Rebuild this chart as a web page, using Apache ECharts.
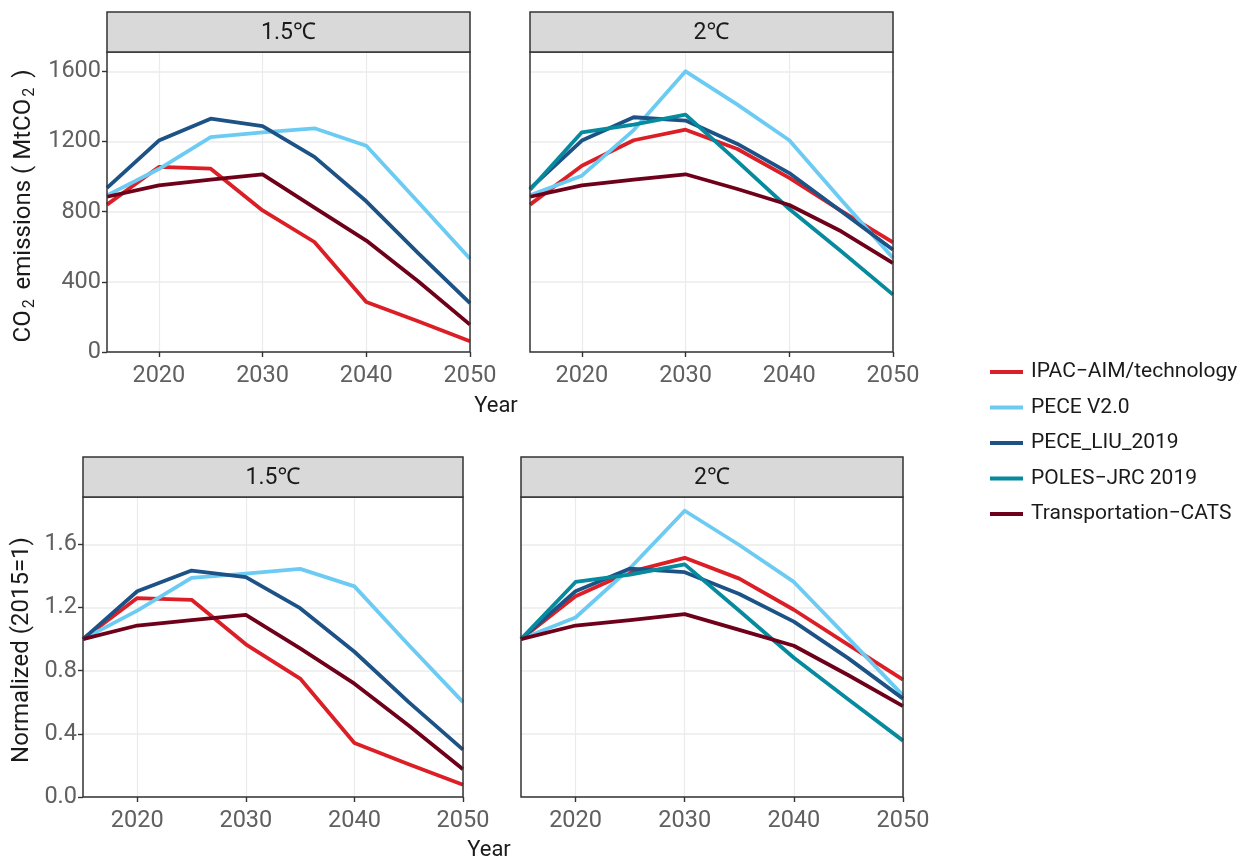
<!DOCTYPE html>
<html>
<head>
<meta charset="utf-8">
<script src="https://cdn.jsdelivr.net/npm/echarts@6/dist/echarts.min.js"></script>
<style>
html,body{margin:0;padding:0;background:#fff;}
#chart{width:1241px;height:859px;}
</style>
</head>
<body>
<div id="chart"></div>
<script>
// ---------- DATA ----------
const years = [2015, 2020, 2025, 2030, 2035, 2040, 2045, 2050];
const models = ['IPAC\u2212AIM/technology', 'PECE V2.0', 'PECE_LIU_2019', 'POLES\u2212JRC 2019', 'Transportation\u2212CATS'];
const panelTitles = ['1.5\u2103', '2\u2103', '1.5\u2103', '2\u2103'];
const xTickLabels = [2020, 2030, 2040, 2050];
const yTicksAbs = [0, 400, 800, 1200, 1600];
const yTicksNorm = [0, 0.4, 0.8, 1.2, 1.6];

// Absolute emissions (MtCO2), 1.5C
const ipacAbs15 = [840, 1055, 1045, 807, 627, 285, 175, 61];
const peceAbs15 = [893, 1043, 1225, 1252, 1275, 1176, 855, 532];
const liuAbs15  = [935, 1205, 1330, 1288, 1112, 859, 564, 279];
const catsAbs15 = [885, 950, 982, 1013, 823, 635, 403, 156];
// Absolute emissions (MtCO2), 2C
const ipacAbs20  = [840, 1062, 1207, 1267, 1157, 992, 805, 625];
const peceAbs20  = [893, 1005, 1265, 1600, 1410, 1207, 868, 536];
const liuAbs20   = [931, 1205, 1338, 1319, 1186, 1020, 802, 583];
const polesAbs20 = [925, 1252, 1296, 1353, 1087, 815, 574, 327];
const catsAbs20  = [885, 950, 982, 1013, 929, 838, 688, 507];
// Normalized (2015=1), 1.5C
const ipacNorm15 = [1, 1.26, 1.249, 0.967, 0.75, 0.342, 0.208, 0.077];
const peceNorm15 = [1, 1.18, 1.388, 1.415, 1.445, 1.334, 0.963, 0.601];
const liuNorm15  = [1, 1.303, 1.434, 1.392, 1.196, 0.92, 0.601, 0.30];
const catsNorm15 = [1, 1.086, 1.12, 1.154, 0.941, 0.718, 0.453, 0.176];
// Normalized (2015=1), 2C
const ipacNorm20  = [1, 1.271, 1.426, 1.515, 1.383, 1.186, 0.963, 0.744];
const peceNorm20  = [1, 1.137, 1.45, 1.813, 1.596, 1.362, 1.005, 0.644];
const liuNorm20   = [1, 1.303, 1.447, 1.424, 1.286, 1.111, 0.878, 0.623];
const polesNorm20 = [1, 1.362, 1.409, 1.473, 1.18, 0.882, 0.618, 0.357];
const catsNorm20  = [1, 1.086, 1.12, 1.158, 1.058, 0.958, 0.771, 0.576];

// ---------- STYLE / LAYOUT ----------
const colors = {
  'IPAC\u2212AIM/technology': '#DC1F26',
  'PECE V2.0': '#6CCBF2',
  'PECE_LIU_2019': '#1D5286',
  'POLES\u2212JRC 2019': '#058A9E',
  'Transportation\u2212CATS': '#6E0019'
};
const FONT = 'Roboto, "Noto Sans", sans-serif';
const grids = [
  {left: 107, top: 52, width: 363, height: 300},
  {left: 530, top: 52, width: 363, height: 300},
  {left: 83,  top: 497, width: 380, height: 300},
  {left: 521, top: 497, width: 382, height: 300}
];
const STRIP_H = 40;

const panelData = [
  [[models[0], ipacAbs15], [models[1], peceAbs15], [models[2], liuAbs15], [models[4], catsAbs15]],
  [[models[0], ipacAbs20], [models[1], peceAbs20], [models[2], liuAbs20], [models[3], polesAbs20], [models[4], catsAbs20]],
  [[models[0], ipacNorm15], [models[1], peceNorm15], [models[2], liuNorm15], [models[4], catsNorm15]],
  [[models[0], ipacNorm20], [models[1], peceNorm20], [models[2], liuNorm20], [models[3], polesNorm20], [models[4], catsNorm20]]
];

const chart = echarts.init(document.getElementById('chart'), null, {renderer: 'canvas'});

const xAxes = grids.map((g, i) => ({
  type: 'value', gridIndex: i, min: 2015, max: 2050, interval: 5,
  axisLine: {show: false},
  axisTick: {show: true, length: 5, lineStyle: {color: '#333', width: 1.4}, customValues: xTickLabels},
  axisLabel: {
    show: true, color: '#606060', fontSize: 23.5, fontFamily: FONT, margin: 12,
    customValues: xTickLabels,
    formatter: v => (v % 10 === 0 && v > 2015) ? String(v) : ''
  },
  splitLine: {show: true, lineStyle: {color: '#EBEBEB', width: 1.2}},
  minorSplitLine: {show: false}
}));

const yAxes = grids.map((g, i) => {
  const isAbs = i < 2;
  const ticks = isAbs ? yTicksAbs : yTicksNorm;
  const showLab = (i === 0 || i === 2);
  return {
    type: 'value', gridIndex: i,
    min: 0, max: isAbs ? 1710 : 1.9, interval: isAbs ? 400 : 0.4,
    axisLine: {show: false},
    axisTick: {show: showLab, length: 5, lineStyle: {color: '#333', width: 1.4}, customValues: ticks},
    axisLabel: {
      show: showLab, color: '#606060', fontSize: 23.5, fontFamily: FONT, margin: 6,
      customValues: ticks,
      formatter: v => isAbs ? String(Math.round(v)) : Number(v).toFixed(1)
    },
    splitLine: {show: true, lineStyle: {color: '#EBEBEB', width: 1.5}}
  };
});

const series = [];
panelData.forEach((arr, pi) => {
  arr.forEach(([name, vals]) => {
    series.push({
      type: 'line', name: name, xAxisIndex: pi, yAxisIndex: pi,
      data: years.map((y, k) => [y, vals[k]]),
      symbol: 'none', smooth: false,
      lineStyle: {color: colors[name], width: 3.8, join: 'round'},
      itemStyle: {color: colors[name]},
      clip: true, animation: false
    });
  });
});

const graphics = [];
grids.forEach((g, i) => {
  graphics.push({
    type: 'rect', z: 100,
    shape: {x: g.left, y: g.top, width: g.width, height: g.height},
    style: {fill: null, stroke: '#333', lineWidth: 1.5}
  });
  graphics.push({
    type: 'rect', z: 100,
    shape: {x: g.left, y: g.top - STRIP_H, width: g.width, height: STRIP_H},
    style: {fill: '#D9D9D9', stroke: '#333', lineWidth: 1.5}
  });
  graphics.push({
    type: 'text', z: 101,
    x: g.left + g.width / 2, y: g.top - STRIP_H / 2 + 1,
    style: {text: panelTitles[i], fill: '#1A1A1A', fontSize: 23, fontFamily: FONT, align: 'center', verticalAlign: 'middle'}
  });
});
// axis titles
graphics.push({
  type: 'text', z: 101, x: 24, y: 206, rotation: Math.PI / 2,
  style: {
    text: '{n|CO}{s|2}{n| emissions ( MtCO}{s|2}{n| )}',
    align: 'center', verticalAlign: 'middle',
    rich: {
      n: {fontSize: 24, fill: '#1A1A1A', fontFamily: FONT, lineHeight: 28, verticalAlign: 'middle'},
      s: {fontSize: 16, fill: '#1A1A1A', fontFamily: FONT, lineHeight: 28, verticalAlign: 'bottom', padding: [0, 4, 0, 2]}
    }
  }
});
graphics.push({
  type: 'text', z: 101, x: 22, y: 650, rotation: Math.PI / 2,
  style: {text: 'Normalized (2015=1)', fill: '#1A1A1A', fontSize: 24, fontFamily: FONT, align: 'center', verticalAlign: 'middle'}
});
graphics.push({
  type: 'text', z: 101, x: 496, y: 406,
  style: {text: 'Year', fill: '#1A1A1A', fontSize: 22, fontFamily: FONT, align: 'center', verticalAlign: 'middle'}
});
graphics.push({
  type: 'text', z: 101, x: 489, y: 850,
  style: {text: 'Year', fill: '#1A1A1A', fontSize: 22, fontFamily: FONT, align: 'center', verticalAlign: 'middle'}
});

const option = {
  animation: false,
  backgroundColor: '#fff',
  grid: grids.map(g => ({left: g.left, top: g.top, width: g.width, height: g.height, show: false})),
  xAxis: xAxes,
  yAxis: yAxes,
  legend: {
    data: models.map(m => ({name: m, icon: 'rect'})),
    orient: 'vertical', left: 985, top: 356,
    itemWidth: 33, itemHeight: 4, itemGap: 13.5,
    textStyle: {fontSize: 21, color: '#1A1A1A', fontFamily: FONT, lineHeight: 22, padding: [0, 0, 0, 3]},
    selectedMode: false
  },
  series: series,
  graphic: graphics
};
chart.setOption(option);
</script>
</body>
</html>
